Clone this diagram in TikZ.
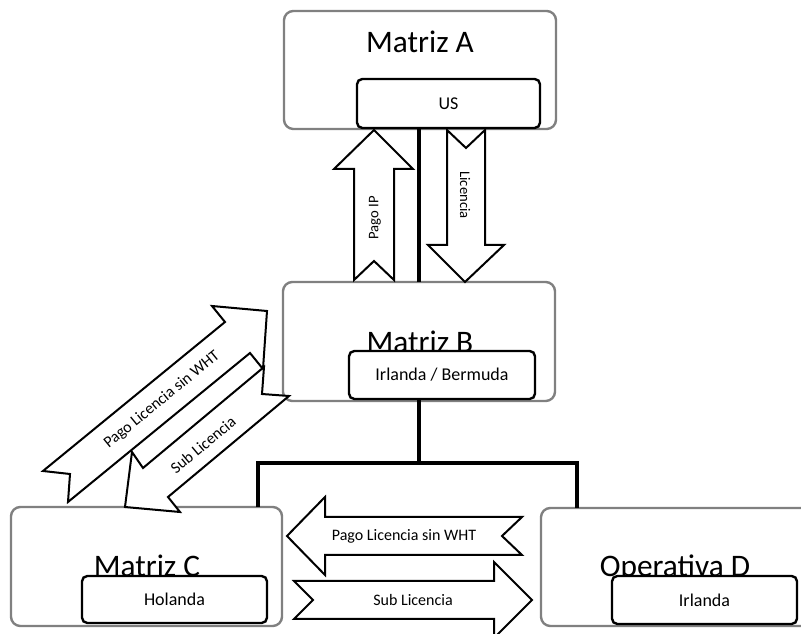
\documentclass[tikz,border=0pt]{standalone}
\usepackage{fontspec}
\setmainfont{Carlito}
\usetikzlibrary{calc}
\newcommand{\bigtxt}{\fontsize{23.5}{28}\selectfont}
\newcommand{\boxtxt}{\fontsize{13.5}{16}\selectfont}
\newcommand{\arrtxt}{\fontsize{12}{14}\selectfont}
\newcommand{\vtxt}{\fontsize{11}{13}\selectfont}

\begin{document}
\begin{tikzpicture}[x=0.75pt,y=-0.75pt,
    gbox/.style={draw=gray,line width=1.8pt,rounded corners=7pt,fill=white,inner sep=0pt,outer sep=0pt},
    bbox/.style={draw=black,line width=1.8pt,rounded corners=4pt,fill=white,inner sep=0pt,outer sep=0pt},
    link/.style={line width=2.6pt},
    barrow/.style={draw,fill=white,line width=1.5pt,line join=miter}]
    \useasboundingbox (0,0) rectangle (801,634);
    \fill[white] (0,0) rectangle (801,634);
    % companies
    \node[gbox,minimum width=204pt,minimum height=88.5pt] (ma) at (420,70) {};
    \node[anchor=base] (tma) at (420,53) {\bigtxt Matriz A};
    \node[bbox,minimum width=137.25pt,minimum height=36.75pt] (us) at (448.5,103.5) {\boxtxt US};
    \node[gbox,minimum width=204pt,minimum height=89.25pt] (mb) at (419,341.5) {};
    \node[anchor=base] (tmb) at (420,353) {\bigtxt Matriz B};
    \node[bbox,minimum width=139.5pt,minimum height=36pt] (irl) at (442,375) {\boxtxt Irlanda / Bermuda};
    \node[gbox,minimum width=203.25pt,minimum height=89.25pt] (mc) at (146.5,566.5) {};
    \node[anchor=base] (tmc) at (147,577) {\bigtxt Matriz C};
    \node[bbox,minimum width=138.75pt,minimum height=35.25pt] (hol) at (174.5,599.5) {\boxtxt Holanda};
    \node[gbox,minimum width=204pt,minimum height=88.5pt] (md) at (677,567) {};
    \node[anchor=base] (tmd) at (675,577) {\bigtxt Operativa D};
    \node[bbox,minimum width=138.75pt,minimum height=36pt] (irl2) at (704.5,600) {\boxtxt Irlanda};
    % ownership lines
    \coordinate (jm) at (419,463);
    \coordinate (jl) at (258,463);
    \coordinate (jr) at (577,463);
    \draw[link] (us.south -| jm) -- (mb.north -| jm);
    \draw[link] (irl.south -| jm) -- (jm);
    \draw[link] (mc.north -| jl) -- (jl) -- (jr) -- (md.north -| jr);
    % flows A - B
    \draw[barrow] (354,280) -- (374,261) -- (394,280) -- (394,169) -- (413,169) -- (374,130) -- (334,169) -- (354,169) -- cycle;
    \node[rotate=90] (pip) at (375,218) {\vtxt Pago IP};
    \draw[barrow] (447,130) -- (466,148) -- (485,130) -- (485,245) -- (504,245) -- (465,282) -- (428,245) -- (447,245) -- cycle;
    \node[rotate=-90] (lic) at (465,195) {\vtxt Licencia};
    % flows B - C
    \draw[barrow] (43,471) -- (70,474) -- (68,502) -- (250,353) -- (263,369) -- (267,311) -- (212,306) -- (225,322) -- cycle;
    \node[rotate=39.3] (pbc) at (162,400) {\arrtxt Pago Licencia sin WHT};
    \draw[barrow] (264,367) -- (143,468) -- (132,452) -- (125,507) -- (180,512) -- (168,497) -- (289,396) -- (262,394) -- cycle;
    \node[rotate=39.9] (sbc) at (203,445) {\arrtxt Sub Licencia};
    % flows C - D
    \draw[barrow] (287,536) -- (325,497) -- (325,517) -- (522,517) -- (502,536) -- (522,555) -- (325,555) -- (325,575) -- cycle;
    \node (pcd) at (404,536) {\arrtxt Pago Licencia sin WHT};
    \draw[barrow] (294,581) -- (313,600) -- (294,619) -- (494,619) -- (494,638) -- (532,600) -- (494,562) -- (494,581) -- cycle;
    \node (scd) at (413,600) {\arrtxt Sub Licencia};
\end{tikzpicture}
\end{document}
